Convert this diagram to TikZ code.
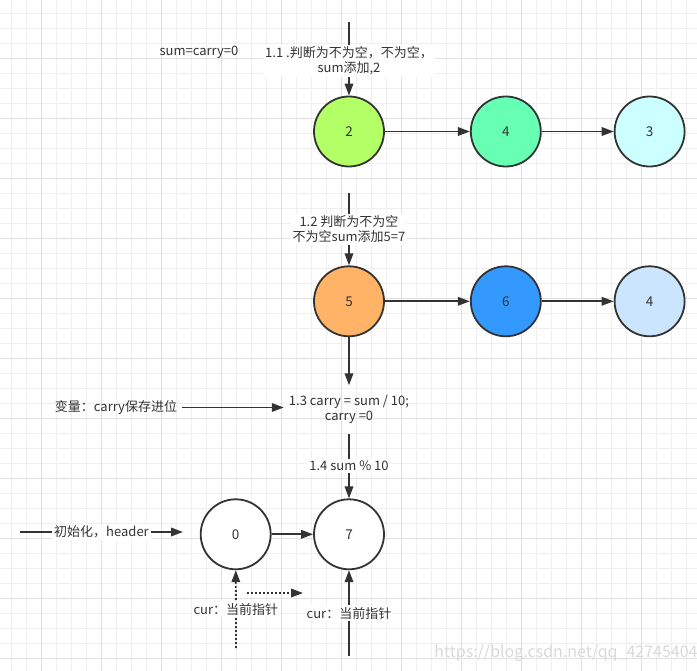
\documentclass[tikz,border=0pt]{standalone}
\usepackage{fontspec}
\setmainfont{Noto Sans CJK SC}
\usetikzlibrary{arrows.meta,positioning,calc}
\definecolor{inkcol}{HTML}{333333}
\definecolor{gridmin}{HTML}{EFEFEF}
\definecolor{gridmaj}{HTML}{E0E0E0}
\definecolor{limecol}{HTML}{B3FF66}
\definecolor{mintcol}{HTML}{66FFB3}
\definecolor{icecol}{HTML}{CCFFFF}
\definecolor{orgcol}{HTML}{FFB366}
\definecolor{bluecol}{HTML}{3399FF}
\definecolor{skycol}{HTML}{CCE5FF}
\tikzset{
  listnode/.style={draw=inkcol, fill=#1, circle, line width=1.8pt, minimum size=70pt,
                   inner sep=0pt, font=\fontsize{13.5}{15}\selectfont, text=inkcol},
  arrsolid/.style={-{Triangle[length=12pt,width=8.5pt]}, line width=1.8pt, draw=inkcol},
  arrdot/.style  ={arrsolid, dash pattern=on 2pt off 2pt},
  edgelab/.style ={fill=white, inner sep=2pt, align=center,
                   font=\fontsize{13}{15}\selectfont, text=inkcol},
  freelab/.style ={inner sep=5pt, align=center,
                   font=\fontsize{13}{14.5}\selectfont, text=inkcol},
}

\begin{document}
\begin{tikzpicture}[x=1pt, y=-1pt]
%% Canvas and grid
\useasboundingbox[fill=white] (0,0) rectangle (697,671);
\foreach \gx in {11.7,26.7,...,697} \draw[gridmin, line width=0.8pt] (\gx,0) -- (\gx,671);
\foreach \gy in {13.3,28.3,...,671} \draw[gridmin, line width=0.8pt] (0,\gy) -- (697,\gy);
\foreach \gx in {41.7,101.7,...,697} \draw[gridmaj, line width=0.8pt] (\gx,0) -- (\gx,671);
\foreach \gy in {58.3,118.3,...,671} \draw[gridmaj, line width=0.8pt] (0,\gy) -- (697,\gy);

%% First list
\node[listnode=limecol] (n2a) at (349,131.5) {2};
\node[listnode=mintcol, right=85pt of n2a] (n4a) {4};
\node[listnode=icecol,  right=72pt of n4a] (n3a) {3};

%% Second list
\node[listnode=orgcol,  below=98pt of n2a] (n5b) {5};
\node[listnode=bluecol, right=85pt of n5b] (n6b) {6};
\node[listnode=skycol,  right=72pt of n6b] (n4b) {4};

%% Result list
\node[listnode=white] (n7r) at (349,534.3) {7};
\node[listnode=white, left=41.5pt of n7r] (n0r) {0};

%% Free texts
\node[freelab] (sumlab) at (199,52) {sum=carry=0};
\node[freelab, minimum height=48pt] (carrylab) at (349,409.5) {1.3 carry = sum / 10;\\carry =0};
\node[freelab] (varlab) at (116,407.5) {变量：carry保存进位};

%% Loose ends
\coordinate (top1) at (349,22);
\coordinate (top2) at (349,193);
\coordinate (hdrS) at (20,532);
\coordinate (hdrE) at (183,532);
\coordinate (cur0S) at (236,648);
\coordinate (cur7S) at (349,656);
\coordinate (dotS) at (247,593);
\coordinate (dotE) at (303,593);

%% List arrows
\draw[arrsolid] (n2a) -- (n4a);
\draw[arrsolid] (n4a) -- (n3a);
\draw[arrsolid] (n5b) -- (n6b);
\draw[arrsolid] (n6b) -- (n4b);
\draw[arrsolid] (n0r) -- (n7r);

%% Step arrows
\draw[arrsolid] (top1) -- node[edgelab, yshift=-2pt]{1.1 .判断为不为空，不为空，\\sum添加,2} (n2a);
\draw[arrsolid] (top2) -- node[edgelab]{1.2 判断为不为空\\不为空sum添加5=7} (n5b);
\draw[arrsolid] (n5b) -- (carrylab);
\draw[arrsolid] (varlab) -- (carrylab.west |- varlab);
\draw[arrsolid] (carrylab) -- node[edgelab]{1.4 sum \% 10} (n7r);
\draw[arrsolid] (hdrS) -- node[edgelab]{初始化，header} (hdrE);

%% Pointer arrows
\draw[arrdot]   (cur0S) -- node[edgelab]{cur：当前指针} (n0r);
\draw[arrdot]   (dotS) -- (dotE);
\draw[arrsolid] (cur7S) -- node[edgelab]{cur：当前指针} (n7r);

%% Watermark
\node[text=gray!30, font=\fontsize{16}{16}\selectfont] (wmark) at (566,653)
  {https://blog.csdn.net/qq\_42745404};
\end{tikzpicture}
\end{document}
